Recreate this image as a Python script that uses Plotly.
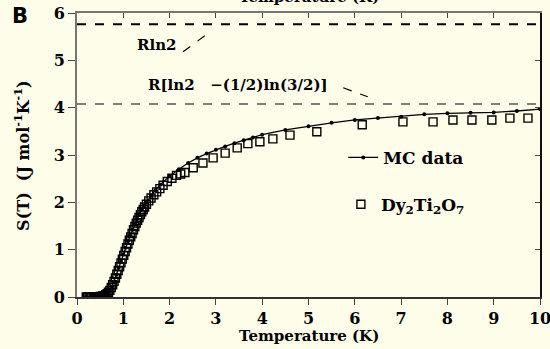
import plotly.graph_objects as go

# ---- data ----
mc_T = [0.2, 0.3, 0.4, 0.5, 0.55, 0.6, 0.65, 0.7, 0.75, 0.8, 0.85, 0.9, 0.95, 1.0, 1.05, 1.1,
        1.15, 1.2, 1.25, 1.3, 1.35, 1.4, 1.45, 1.5, 1.6, 1.7, 1.8,
        2.0, 2.2, 2.4, 2.6, 2.8, 3.0, 3.2, 3.4, 3.6, 3.8, 4.0, 4.5, 5.0, 5.5, 6.0, 6.5, 7.0,
        7.5, 8.0, 8.5, 9.0, 9.5, 10.0]
mc_S = [0.0, 0.0, 0.0, 0.01, 0.02, 0.04, 0.07, 0.12, 0.21, 0.33, 0.47, 0.62, 0.76, 0.9, 1.04,
        1.17, 1.30, 1.42, 1.54, 1.65, 1.75, 1.85, 1.93, 2.0, 2.14,
        2.26, 2.37, 2.55, 2.7, 2.83, 2.94, 3.03, 3.11, 3.18, 3.25, 3.31, 3.37, 3.43, 3.53,
        3.61, 3.68, 3.74, 3.78, 3.81, 3.86, 3.88, 3.89, 3.9, 3.93, 3.97]

dy_T = [0.20, 0.23, 0.26, 0.29, 0.32, 0.35, 0.38, 0.41, 0.44, 0.47, 0.50, 0.53, 0.56, 0.59,
        0.62, 0.65, 0.68, 0.71, 0.74, 0.77, 0.80, 0.83, 0.86, 0.89, 0.92, 0.95, 0.98, 1.01,
        1.04, 1.07, 1.10, 1.13, 1.16, 1.19, 1.22, 1.25, 1.28, 1.31, 1.34, 1.37, 1.40, 1.43,
        1.46, 1.50, 1.55, 1.60, 1.66, 1.72, 1.79, 1.86, 1.95, 2.05, 2.15, 2.24, 2.33, 2.51,
        2.72, 2.94, 3.2, 3.46, 3.69, 3.95, 4.23, 4.6, 5.18, 6.16, 7.04, 7.69, 8.12, 8.53,
        8.96, 9.35, 9.74]
dy_S = [0.0, 0.0, 0.0, 0.0, 0.0, 0.0, 0.0, 0.0, 0.0, 0.0, 0.01, 0.01, 0.02, 0.03,
        0.05, 0.07, 0.10, 0.14, 0.20, 0.26, 0.33, 0.40, 0.48, 0.56, 0.64, 0.72, 0.80, 0.88,
        0.96, 1.04, 1.12, 1.20, 1.27, 1.34, 1.42, 1.49, 1.56, 1.62, 1.68, 1.74, 1.80, 1.85,
        1.90, 1.96, 2.03, 2.09, 2.16, 2.22, 2.29, 2.36, 2.44, 2.51, 2.57, 2.60, 2.63, 2.73,
        2.83, 2.94, 3.04, 3.15, 3.24, 3.28, 3.34, 3.42, 3.49, 3.64, 3.70, 3.70, 3.74, 3.74,
        3.74, 3.78, 3.78]

R = 8.314
ref_levels = [R * 0.693147, R * (0.693147 - 0.5 * 0.405465)]  # Rln2, R[ln2-(1/2)ln(3/2)]
ref_labels = ["Rln2", "R[ln2&nbsp;&nbsp;&nbsp;−(1/2)ln(3/2)]"]

x_ticks = list(range(0, 11))
y_ticks = list(range(0, 7))

BG = "#FEFDE9"
FONT = "DejaVu Serif"

fig = go.Figure()
fig.add_trace(go.Scatter(
    x=mc_T, y=mc_S, mode="lines+markers", name="<b>MC data</b>",
    line=dict(color="black", width=1.3),
    marker=dict(symbol="circle", size=4, color="black"),
    legend="legend",
))
fig.add_trace(go.Scatter(
    x=dy_T, y=dy_S, mode="markers", name="<b>Dy<sub>2</sub>Ti<sub>2</sub>O<sub>7</sub></b>",
    marker=dict(symbol="square-open", size=8, color="black", line=dict(width=1.4)),
    legend="legend2",
))

# reference dashed lines
fig.add_shape(type="line", xref="paper", yref="y", x0=0, x1=1, y0=ref_levels[0], y1=ref_levels[0],
              line=dict(color="black", width=2, dash="dash"))
fig.add_shape(type="line", xref="paper", yref="y", x0=0, x1=1, y0=ref_levels[1], y1=ref_levels[1],
              line=dict(color="#555555", width=1.3, dash="dash"))
# pointer lines
fig.add_shape(type="line", xref="x", yref="y", x0=2.29, y0=5.18, x1=2.76, y1=5.52,
              line=dict(color="black", width=1.2, dash="dash"))
fig.add_shape(type="line", xref="x", yref="y", x0=5.75, y0=4.42, x1=6.28, y1=4.23,
              line=dict(color="black", width=1.2, dash="dash"))

fig.add_annotation(x=1.73, y=5.33, xref="x", yref="y", text="<b>" + ref_labels[0] + "</b>",
                   showarrow=False, font=dict(family=FONT, size=15, color="black"))
fig.add_annotation(x=3.47, y=4.48, xref="x", yref="y", text="<b>" + ref_labels[1] + "</b>",
                   showarrow=False, font=dict(family=FONT, size=15, color="black"))

fig.add_annotation(x=-0.123, y=0.99, xref="paper", yref="paper", xanchor="center", yanchor="middle",
                   text="<b>B</b>", showarrow=False,
                   font=dict(family="DejaVu Sans", size=21, color="black"))
fig.add_annotation(x=-0.119, y=0.5, xref="paper", yref="paper", xanchor="center", yanchor="middle",
                   textangle=-90,
                   text="<b>S(T)  (J mol<sup>-1</sup>K<sup>-1</sup>)</b>", showarrow=False,
                   font=dict(family=FONT, size=16, color="black"))
fig.add_annotation(x=0.5, y=-0.137, xref="paper", yref="paper", xanchor="center", yanchor="middle",
                   text="<b>Temperature (K)</b>",
                   showarrow=False, font=dict(family=FONT, size=15, color="black"))
fig.add_annotation(x=0.5, y=1.058, xref="paper", yref="paper", xanchor="center", yanchor="middle",
                   text="<b>Temperature (K)</b>",
                   showarrow=False, font=dict(family=FONT, size=15, color="black"))

fig.update_layout(
    width=550, height=349, autosize=False,
    margin=dict(l=77, r=10, t=13, b=52, autoexpand=False),
    paper_bgcolor=BG, plot_bgcolor=BG,
    font=dict(family=FONT, size=15, color="black"),
    xaxis=dict(range=[0, 10], tickvals=x_ticks, ticktext=["<b>%d</b>" % v for v in x_ticks],
               ticks="outside", ticklen=6, tickwidth=1, ticklabeloverflow="allow",
               showgrid=False, zeroline=False, showline=True, linecolor="#333333", linewidth=2,
               tickfont=dict(family=FONT, size=16)),
    yaxis=dict(range=[0, 6], tickvals=y_ticks, ticktext=["<b>%d</b>" % v for v in y_ticks],
               ticks="outside", ticklen=7, tickwidth=1, ticklabeloverflow="allow",
               showgrid=False, zeroline=False, showline=True, linecolor="#777777", linewidth=2,
               tickfont=dict(family=FONT, size=16)),
    xaxis2=dict(range=[0, 10], tickvals=x_ticks, ticks="inside", ticklen=5, showticklabels=False,
                overlaying="x", side="top", anchor="y", showgrid=False, zeroline=False,
                showline=True, linecolor="#777777", linewidth=2),
    yaxis2=dict(range=[0, 6], tickvals=y_ticks, ticks="inside", ticklen=5, showticklabels=False,
                overlaying="y", side="right", anchor="x", showgrid=False, zeroline=False,
                showline=True, linecolor="#111111", linewidth=2),
    legend=dict(x=0.575, y=0.49, xanchor="left", yanchor="middle", bgcolor="rgba(0,0,0,0)",
                font=dict(family=FONT, size=17)),
    legend2=dict(x=0.57, y=0.325, xanchor="left", yanchor="middle", bgcolor="rgba(0,0,0,0)",
                 font=dict(family=FONT, size=17)),
    showlegend=True,
)
fig.add_trace(go.Scatter(x=[None], y=[None], xaxis="x2", yaxis="y2", showlegend=False,
                         hoverinfo="skip"))

fig.write_html(
    "out.html",
    config={"displayModeBar": False},
    post_script="document.body.style.margin='0';document.body.style.background='%s';" % BG,
)
